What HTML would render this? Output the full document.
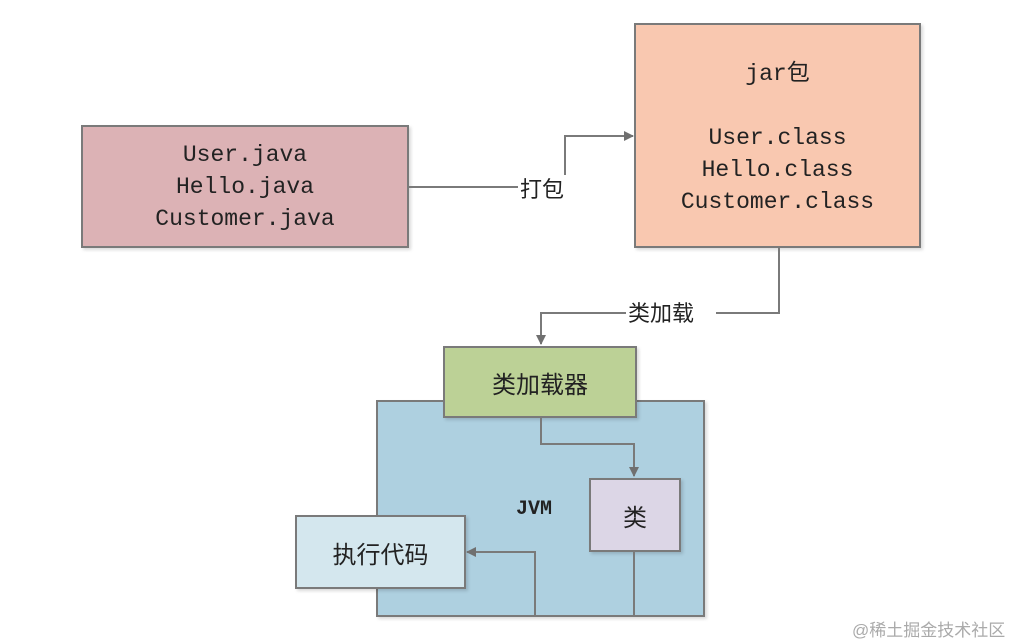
<!DOCTYPE html>
<html><head><meta charset="utf-8"><style>
body{margin:0;background:#fff;width:1018px;height:644px;overflow:hidden;position:relative;font-family:"Liberation Mono","Noto Sans CJK SC",monospace;}
.b{position:absolute;border:2px solid #7a7a7a;box-sizing:border-box;display:flex;align-items:center;justify-content:center;text-align:center;color:#222;box-shadow:2px 2px 3px rgba(0,0,0,.15)}
.t{position:absolute;color:#222;font-size:22px;font-family:"Liberation Sans","Noto Sans CJK SC",sans-serif;}
</style></head><body>
<div class="b" style="left:376px;top:400px;width:329px;height:217px;background:#aed0e0"></div>
<div class="b" style="left:81px;top:125px;width:328px;height:123px;background:#dcb2b5;font-size:23px;line-height:32px"><div>User.java<br>Hello.java<br>Customer.java</div></div>
<div class="b" style="left:634px;top:23px;width:287px;height:225px;background:#f9c8b0;font-size:23px;line-height:32px"><div>jar<span style="font-family:'Noto Sans CJK SC'">包</span><br><br>User.class<br>Hello.class<br>Customer.class</div></div>
<div class="b" style="left:443px;top:346px;width:194px;height:72px;background:#bcd196;font-size:24px;font-family:'Noto Sans CJK SC',sans-serif">类加载器</div>
<div class="b" style="left:589px;top:478px;width:92px;height:74px;background:#dcd6e6;font-size:24px;font-family:'Noto Sans CJK SC',sans-serif">类</div>
<div class="b" style="left:295px;top:515px;width:171px;height:74px;background:#d4e7ee;font-size:24px;font-family:'Noto Sans CJK SC',sans-serif">执行代码</div>
<div class="t" style="left:516px;top:498px;font-family:'Liberation Mono',monospace;font-size:20px;font-weight:bold">JVM</div>
<svg width="1018" height="644" style="position:absolute;left:0;top:0">
<defs><marker id="a" markerWidth="10" markerHeight="10" refX="9" refY="5" orient="auto" markerUnits="userSpaceOnUse"><path d="M0,0 L10,5 L0,10z" fill="#707070"/></marker></defs>
<g stroke="#7a7a7a" stroke-width="2" fill="none">
<path d="M409,187 H518"/>
<path d="M565,175 V136 H633" marker-end="url(#a)"/>
<path d="M779,248 V313 H716"/>
<path d="M626,313 H541 V344" marker-end="url(#a)"/>
<path d="M541,418 V444 H634 V476" marker-end="url(#a)"/>
<path d="M634,552 V616"/>
<path d="M535,616 V552 H467" marker-end="url(#a)"/>
</g></svg>
<div class="t" style="left:520px;top:172px;">打包</div>
<div class="t" style="left:628px;top:296px;">类加载</div>
<div class="t" style="left:852px;top:616px;font-size:17px;color:#aaa">@稀土掘金技术社区</div>
</body></html>
